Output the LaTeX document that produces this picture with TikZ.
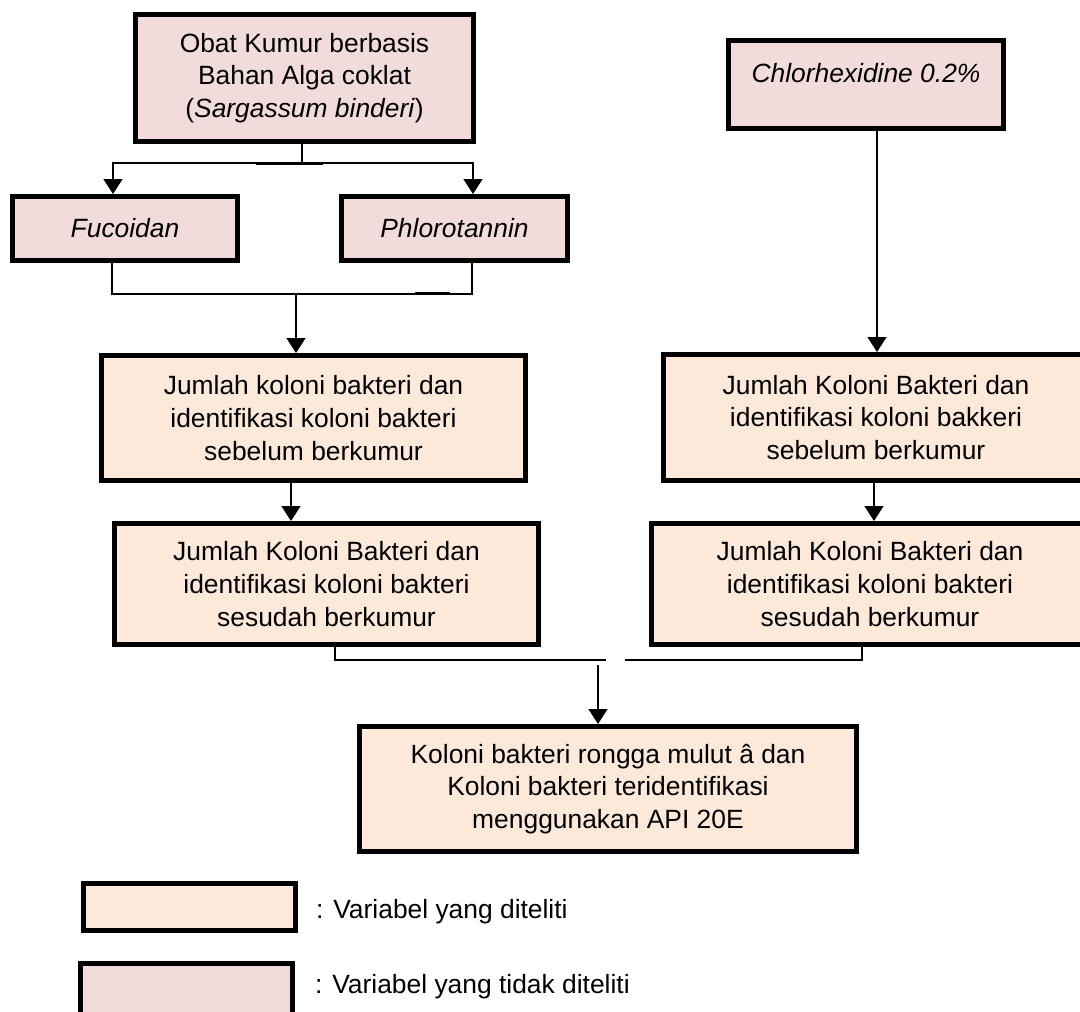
\documentclass[tikz,border=0pt]{standalone}
\usepackage{fontspec}
\setmainfont{Liberation Sans}
\usetikzlibrary{arrows.meta}
\definecolor{tidakfill}{HTML}{F2DCDB}
\definecolor{telitifill}{HTML}{FDE9D9}

\begin{document}
\begin{tikzpicture}[x=1pt,y=-1pt,
	box/.style={draw=black,line width=5pt,inner sep=0pt,align=center,font=\fontsize{26.4}{32.8}\selectfont},
	tidak/.style={box,fill=tidakfill},
	teliti/.style={box,fill=telitifill},
	conn/.style={line width=1.4pt},
	arr/.style={conn,-{Triangle[width=19pt,length=15pt]}},
	ket/.style={anchor=west,inner sep=0pt,font=\fontsize{26.4}{32.8}\selectfont}]
				\useasboundingbox (0,0) rectangle (1080,1012);
				
				\node[tidak,minimum width=338pt,minimum height=127pt] (obat) at (304.5,78) {Obat Kumur berbasis\\Bahan Alga coklat\\(\textit{Sargassum binderi})};
				\node[tidak,minimum width=225pt,minimum height=64pt] (fuco) at (125,228.5) {\textit{Fucoidan}};
				\node[tidak,minimum width=226pt,minimum height=64pt] (phlo) at (454.5,228.5) {\textit{Phlorotannin}};
				\node[tidak,minimum width=275pt,minimum height=88pt,text height=19.5pt,text depth=23.5pt] (chlor) at (866,84.5) {\textit{Chlorhexidine 0.2\%}};
				
				\node[teliti,minimum width=424pt,minimum height=125pt] (jb1) at (313.5,418) {Jumlah koloni bakteri dan\\identifikasi koloni bakteri\\sebelum berkumur};
				\node[teliti,minimum width=425pt,minimum height=126pt] (jb2) at (876,417.5) {Jumlah Koloni Bakteri dan\\identifikasi koloni bakkeri\\sebelum berkumur};
				\node[teliti,minimum width=424pt,minimum height=121pt] (js1) at (326.5,584) {Jumlah Koloni Bakteri dan\\identifikasi koloni bakteri\\sesudah berkumur};
				\node[teliti,minimum width=437pt,minimum height=121pt] (js2) at (870,584) {Jumlah Koloni Bakteri dan\\identifikasi koloni bakteri\\sesudah berkumur};
				\node[teliti,minimum width=497pt,minimum height=125pt] (hasil) at (608,789) {Koloni bakteri rongga mulut â dan\\Koloni bakteri teridentifikasi\\menggunakan API 20E};
				
				\node[teliti,minimum width=212pt,minimum height=47pt] (leg1) at (189.5,907) {};
				\node[tidak,minimum width=212pt,minimum height=56pt] (leg2) at (186.5,991.5) {};
				\node[ket] (ket1) at (316,912) {: Variabel yang diteliti};
				\node[ket] (ket2) at (315,987) {: Variabel yang tidak diteliti};
				
				\coordinate (t1) at (302,163);
				\coordinate (t2) at (296,294);
				\coordinate (t3) at (598,660);
				\coordinate (g1) at (606,660);
				\coordinate (g2) at (625,660);
				
				\draw [conn] (obat.south -| t1) -- (t1);
				\draw [conn,line width=3pt] ([xshift=-46pt]t1) -- ([xshift=21pt]t1);
				\draw [arr] (t1) -| ([xshift=-12pt]fuco.north);
				\draw [arr] (t1) -| ([xshift=18.5pt]phlo.north);
				
				\draw [conn] ([xshift=-13pt]fuco.south) |- (t2) -| ([xshift=17.5pt]phlo.south);
				\draw [conn,line width=3pt] ([xshift=119pt,yshift=1pt]t2) -- ([xshift=154pt,yshift=1pt]t2);
				\draw [arr] (t2) -- (t2 |- jb1.north);
				
				\draw [arr] ([xshift=11pt]chlor.south) -- ([xshift=1pt]jb2.north);
				\draw [arr] ([xshift=-22.5pt]jb1.south) -- ([xshift=-35.5pt]js1.north);
				\draw [arr] ([xshift=-2pt]jb2.south) -- ([xshift=4pt]js2.north);
				
				\draw [conn] ([xshift=8.5pt]js1.south) |- (g1);
				\draw [conn] (g2) -| ([xshift=-8pt]js2.south);
				\draw [arr] ([yshift=-5pt]t3) -- (t3 |- hasil.north);
\end{tikzpicture}
\end{document}
